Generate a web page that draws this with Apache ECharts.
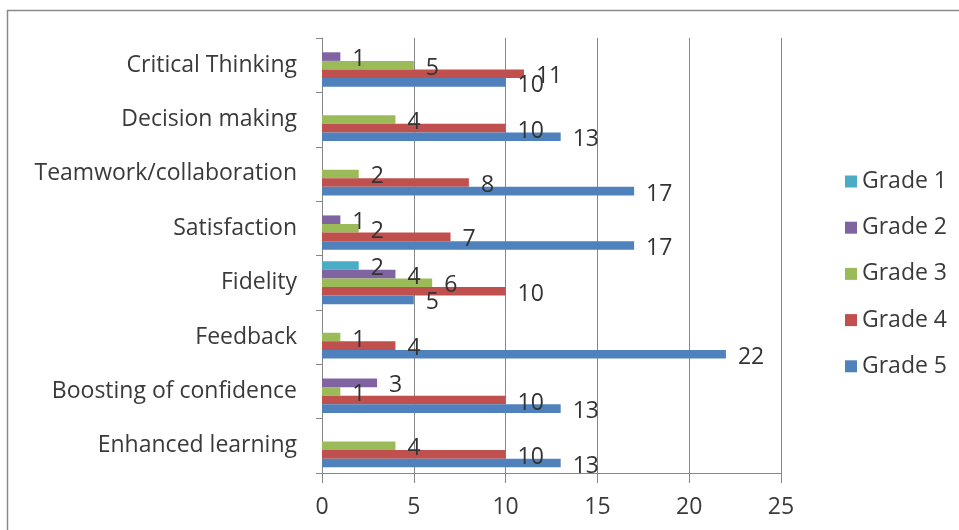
<!DOCTYPE html>
<html>
<head>
<meta charset="utf-8">
<script src="https://cdn.jsdelivr.net/npm/echarts@6/dist/echarts.min.js"></script>
<style>
  html, body { margin: 0; padding: 0; background: #fff; }
  #chart { width: 959px; height: 530px; }
</style>
</head>
<body>
<div id="chart"></div>
<script>
// Skill categories, listed bottom to top as on the axis
const categories = [
  'Enhanced learning',
  'Boosting of confidence',
  'Feedback',
  'Fidelity',
  'Satisfaction',
  'Teamwork/collaboration',
  'Decision making',
  'Critical Thinking'
];

const seriesNames = ['Grade 1', 'Grade 2', 'Grade 3', 'Grade 4', 'Grade 5'];

// Counts per grade, same order as categories
const grade1 = [0, 0, 0, 2, 0, 0, 0, 0];
const grade2 = [0, 3, 0, 4, 1, 0, 0, 1];
const grade3 = [4, 1, 1, 6, 2, 2, 4, 5];
const grade4 = [10, 10, 4, 10, 7, 8, 10, 11];
const grade5 = [13, 13, 22, 5, 17, 17, 13, 10];

const xTicks = [0, 5, 10, 15, 20, 25];

const colors = ['#4BACC6', '#8064A2', '#9BBB59', '#C0504D', '#4F81BD'];
const FONT = 'Open Sans';
const FONT_SIZE = 23;
const TEXT_COLOR = '#3a3a3a';

const chart = echarts.init(document.getElementById('chart'));

const values = [grade1, grade2, grade3, grade4, grade5];

const series = seriesNames.map((name, i) => ({
  name: name,
  type: 'bar',
  data: values[i],
  barGap: '0%',
  barCategoryGap: '21%',
  itemStyle: { color: colors[i] },
  label: {
    show: true,
    position: 'right',
    distance: 12,
    offset: [0, 3],
    color: '#333',
    fontFamily: FONT,
    fontSize: FONT_SIZE,
    formatter: p => (p.value ? String(p.value) : '')
  }
}));

chart.setOption({
  animation: false,
  color: colors,
  graphic: [{
    type: 'rect',
    shape: { x: 7.5, y: 10.5, width: 980, height: 540 },
    style: { fill: 'none', stroke: '#8a8a8a', lineWidth: 1.5 },
    silent: true
  }],
  grid: { left: 322, right: 178, top: 38, bottom: 57 },
  legend: {
    orient: 'vertical',
    left: 840,
    top: 165,
    icon: 'rect',
    itemWidth: 12,
    itemHeight: 12,
    itemGap: 23.2,
    data: seriesNames,
    textStyle: { fontFamily: FONT, fontSize: FONT_SIZE, color: TEXT_COLOR, lineHeight: 23 }
  },
  xAxis: {
    type: 'value',
    min: xTicks[0],
    max: xTicks[xTicks.length - 1],
    interval: 5,
    axisLine: { show: true, lineStyle: { color: '#868686', width: 1 } },
    axisTick: { show: true, length: 10, lineStyle: { color: '#868686' } },
    splitLine: { show: true, lineStyle: { color: '#868686', width: 1 } },
    axisLabel: { margin: 23, fontFamily: FONT, fontSize: FONT_SIZE, color: TEXT_COLOR }
  },
  yAxis: {
    type: 'category',
    data: categories,
    axisLine: { show: true, lineStyle: { color: '#868686', width: 1 } },
    axisTick: { show: true, length: 6, lineStyle: { color: '#868686' } },
    axisLabel: { margin: 25, fontFamily: FONT, fontSize: FONT_SIZE, color: TEXT_COLOR }
  },
  series: series
});
</script>
</body>
</html>
